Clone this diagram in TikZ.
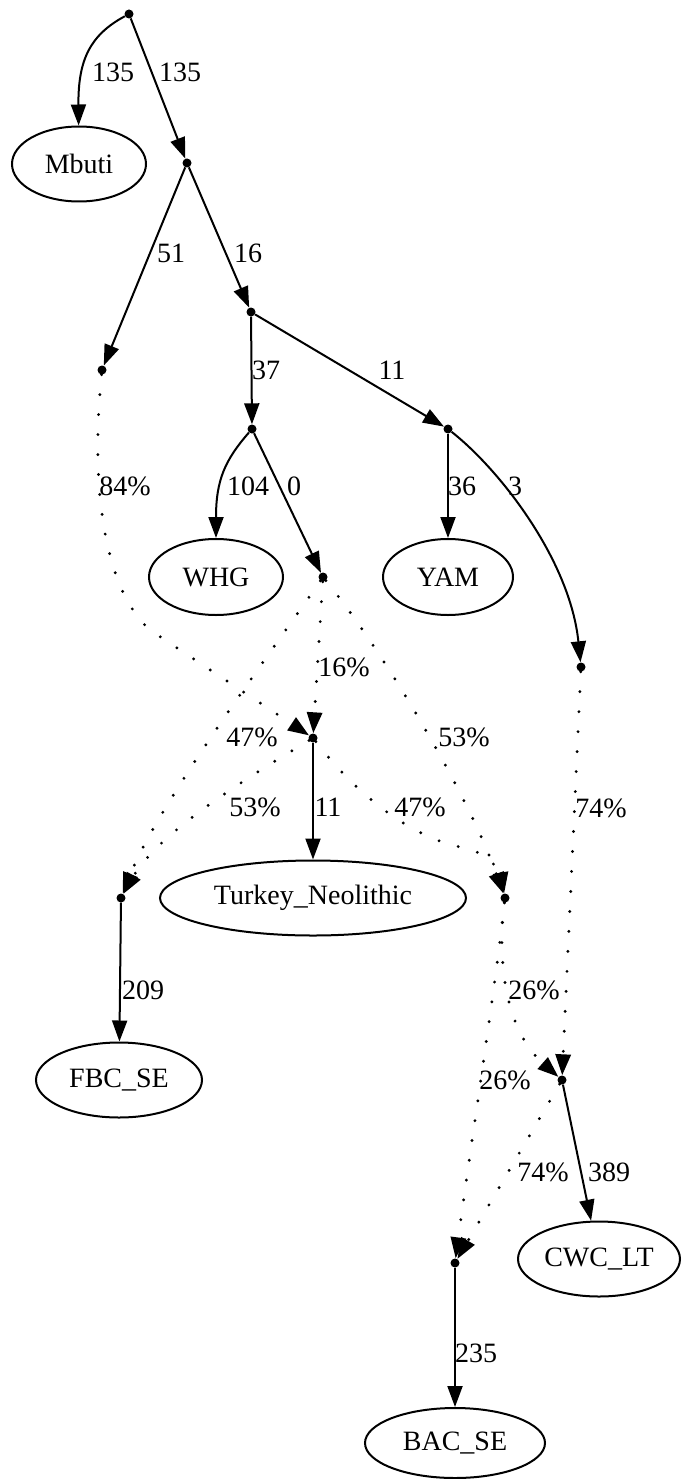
\documentclass[tikz,border=0pt]{standalone}
\usepackage{fontspec}
\setmainfont{Liberation Serif}
\usetikzlibrary{arrows.meta,shapes.geometric}
\begin{document}
\begin{tikzpicture}[x=1pt,y=-1pt,
 pt/.style={circle,fill,inner sep=0,minimum size=9pt},
 pop/.style={ellipse,draw,line width=2pt,inner sep=0,font=\fontsize{28}{34}\selectfont},
 e/.style={line width=2pt,-{Triangle[length=21pt,width=15pt]}},
 ad/.style={e,line cap=round,dash pattern=on 0pt off 20pt,line width=3.2pt},
 lbl/.style={inner sep=0,font=\fontsize{28}{34}\selectfont}]
\useasboundingbox (0,0) rectangle (694,1479);
% nodes
\node[pt] (r0) at (129,14) {};
\node[pop,minimum width=134pt,minimum height=75pt] (mbuti) at (79,164) {Mbuti};
\node[pt] (n1) at (187,163) {};
\node[pt] (n2) at (251,312) {};
\node[pt] (n3) at (102,370) {};
\node[pt] (n4) at (252,429) {};
\node[pt] (n5) at (448,429) {};
\node[pop,minimum width=134pt,minimum height=76pt] (whg) at (216,577) {WHG};
\node[pt] (n6) at (323,577) {};
\node[pop,minimum width=130pt,minimum height=76pt] (yam) at (448,577) {YAM};
\node[pt] (n7) at (581,667) {};
\node[pt] (n8) at (313,738) {};
\node[pop,minimum width=306pt,minimum height=75pt] (tur) at (313,898) {Turkey\_Neolithic};
\node[pt] (n9) at (121,898) {};
\node[pt] (n10) at (505,898) {};
\node[pop,minimum width=166pt,minimum height=75pt] (fbc) at (119,1080) {FBC\_SE};
\node[pt] (n11) at (562,1080) {};
\node[pop,minimum width=162pt,minimum height=75pt] (cwc) at (599,1259) {CWC\_LT};
\node[pt] (n12) at (455,1263) {};
\node[pop,minimum width=180pt,minimum height=70pt] (bac) at (455,1443) {BAC\_SE};
% solid edges
\draw[e] (r0) .. controls (90,35) and (78,60) .. (mbuti) node[lbl] at (113,72) {135};
\draw[e] (r0) -- (n1) node[lbl] at (180,72) {135};
\draw[e] (n1) -- (n3) node[lbl] at (171,253) {51};
\draw[e] (n1) -- (n2) node[lbl] at (248,253) {16};
\draw[e] (n2) -- (n4) node[lbl] at (266,370) {37};
\draw[e] (n2) -- (n5) node[lbl] at (392,370) {11};
\draw[e] (n4) .. controls (225,460) and (216,480) .. (whg) node[lbl] at (248,486) {104};
\draw[e] (n4) -- (n6) node[lbl] at (294,486) {0};
\draw[e] (n5) -- (yam) node[lbl] at (462,486) {36};
\draw[e] (n5) .. controls (500,470) and (570,560) .. (n7) node[lbl] at (515,486) {3};
\draw[e] (n8) -- (tur) node[lbl] at (328,807) {11};
\draw[e] (n9) -- (fbc) node[lbl] at (143,990) {209};
\draw[e] (n11) -- (cwc) node[lbl] at (609,1172) {389};
\draw[e] (n12) -- (bac) node[lbl] at (476,1353) {235};
% admixture edges
\draw[ad] (n3) .. controls (90,490) and (105,590) .. (150,630) -- (n8) node[lbl] at (125,486) {84\%};
\draw[ad] (n6) -- (n8) node[lbl] at (344,667) {16\%};
\draw[ad] (n6) .. controls (280,640) and (160,800) .. (n9) node[lbl] at (252,737) {47\%};
\draw[ad] (n6) .. controls (390,660) and (470,800) .. (n10) node[lbl] at (464,737) {53\%};
\draw[ad] (n8) .. controls (260,770) and (160,830) .. (n9) node[lbl] at (255,807) {53\%};
\draw[ad] (n8) .. controls (365,805) and (420,840) .. (465,848) .. controls (485,852) and (500,870) .. (n10) node[lbl] at (420,807) {47\%};
\draw[ad] (n7) -- (n11) node[lbl] at (601,808) {74\%};
\draw[ad] (n10) .. controls (497,960) and (505,1030) .. (n11) node[lbl] at (534,990) {26\%};
\draw[ad] (n10) .. controls (495,990) and (470,1150) .. (n12) node[lbl] at (505,1080) {26\%};
\draw[ad] (n11) -- (n12) node[lbl] at (543,1172) {74\%};
\end{tikzpicture}
\end{document}
